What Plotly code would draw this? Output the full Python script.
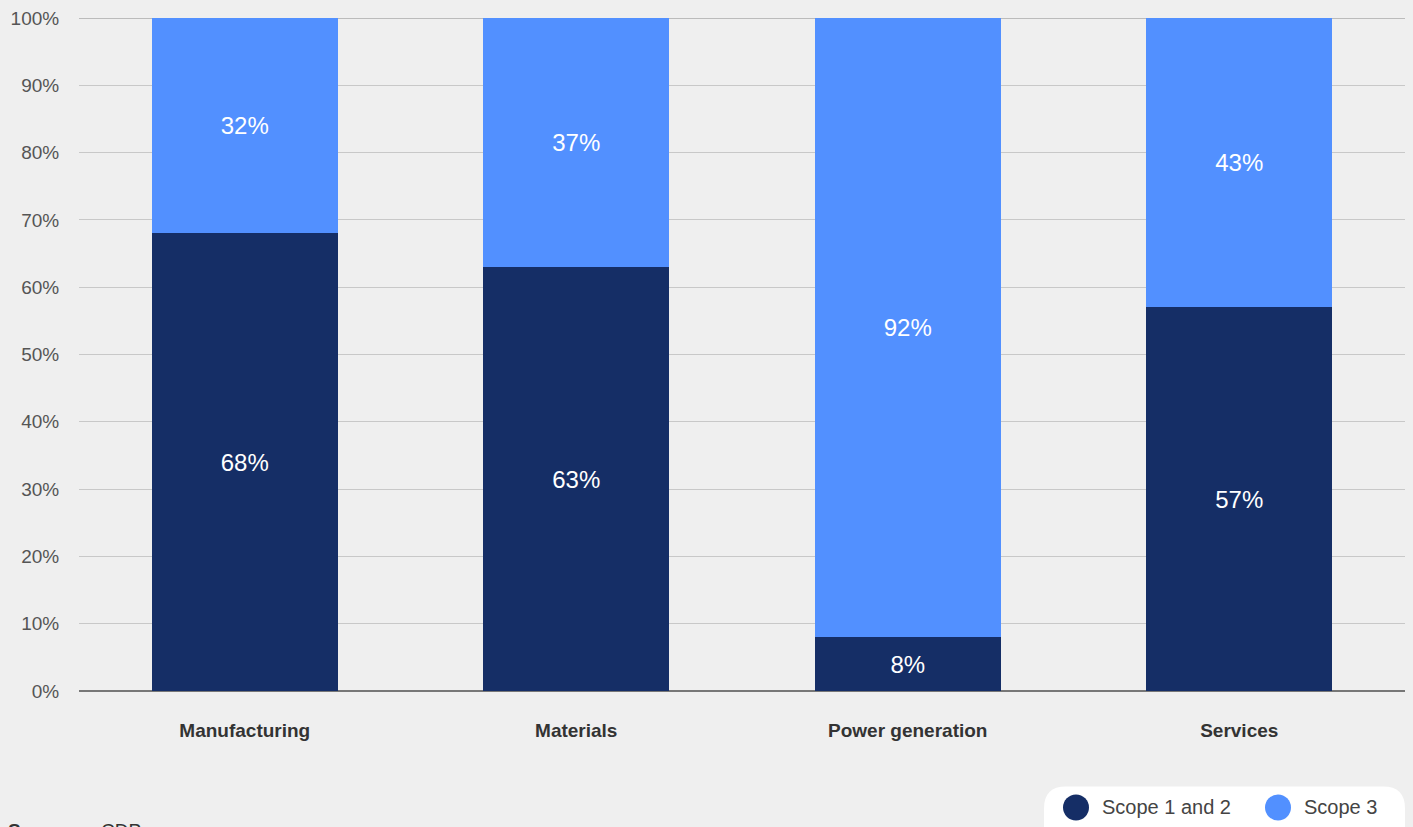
import plotly.graph_objects as go

categories = ["Manufacturing", "Materials", "Power generation", "Services"]
scope12 = [68, 63, 8, 57]
scope3 = [32, 37, 92, 43]
series_names = ["Scope 1 and 2", "Scope 3"]
colors = ["#152E66", "#5290FF"]
y_ticks = [0, 10, 20, 30, 40, 50, 60, 70, 80, 90, 100]
y_ticklabels = [f"{v}%" for v in y_ticks]

W, H = 1413, 827
ML, MR, MT, MB = 79, 8, 15, 136
PW, PH = W - ML - MR, H - MT - MB

def px(x):
    return (x - ML) / PW

def py(y):
    return (H - MB - y) / PH

FONT = "Liberation Sans, Arial, Helvetica, sans-serif"

fig = go.Figure()
for name, vals, col in zip(series_names, [scope12, scope3], colors):
    fig.add_trace(go.Bar(
        x=categories, y=vals, name=name,
        marker=dict(color=col, line=dict(width=0)),
        text=[f"{v}%" for v in vals],
        textposition="inside", insidetextanchor="middle",
        textfont=dict(color="white", size=24, family=FONT),
        showlegend=False,
    ))

fig.update_layout(
    barmode="stack",
    bargap=0.44,
    width=W, height=H,
    margin=dict(l=ML, r=MR, t=MT, b=MB),
    paper_bgcolor="#EFEFEF",
    plot_bgcolor="#EFEFEF",
    font=dict(family=FONT),
    xaxis=dict(
        showgrid=False, showline=False, zeroline=False,
        ticks="outside", ticklen=22, tickcolor="rgba(0,0,0,0)",
        tickfont=dict(size=19, color="#333333", family=FONT, weight="bold"),
    ),
    yaxis=dict(
        range=[0, 100], tickvals=y_ticks, ticktext=y_ticklabels,
        showgrid=True, gridcolor="#C8C8C8", gridwidth=1,
        zeroline=True, zerolinecolor="#777777", zerolinewidth=1.5,
        ticks="outside", ticklen=15, tickcolor="rgba(0,0,0,0)",
        tickfont=dict(size=19, color="#555555", family=FONT),
        fixedrange=True,
    ),
)

# top border line at 100%
fig.add_shape(type="line", xref="paper", yref="y", x0=0, x1=1, y0=100, y1=100,
              line=dict(color="#AAAAAA", width=1.5), layer="below")

# manual legend: rounded white box
x0, x1, y0, y1, r = 1044, 1405, 787, 850, 22
path = (f"M {px(x0 + r)} {py(y0)} L {px(x1 - r)} {py(y0)} "
        f"Q {px(x1)} {py(y0)} {px(x1)} {py(y0 + r)} L {px(x1)} {py(y1)} "
        f"L {px(x0)} {py(y1)} L {px(x0)} {py(y0 + r)} "
        f"Q {px(x0)} {py(y0)} {px(x0 + r)} {py(y0)} Z")
fig.add_shape(type="path", xref="paper", yref="paper", path=path,
              fillcolor="white", line=dict(width=0), layer="above")

legend_items = [(1076, 1100), (1278, 1302)]
for (cx, tx), name, col in zip(legend_items, series_names, colors):
    rr = 13
    fig.add_shape(type="circle", xref="paper", yref="paper",
                  x0=px(cx - rr), x1=px(cx + rr), y0=py(808 + rr), y1=py(808 - rr),
                  fillcolor=col, line=dict(width=0), layer="above")
    fig.add_annotation(x=px(tx), y=py(808), xref="paper", yref="paper",
                       text=name, showarrow=False, xanchor="left", yanchor="middle",
                       font=dict(size=20, color="#444444", family=FONT))

# source line (cut off at the bottom edge, as in the reference)
fig.add_annotation(x=px(6), y=py(819), xref="paper", yref="paper",
                   text="<b>Source:</b>", showarrow=False, xanchor="left", yanchor="top",
                   font=dict(size=19, color="#333333", family=FONT))
fig.add_annotation(x=px(99), y=py(819), xref="paper", yref="paper",
                   text="CDP", showarrow=False, xanchor="left", yanchor="top",
                   font=dict(size=19, color="#333333", family=FONT))

fig.write_html("out.html", config={"displayModeBar": False})
